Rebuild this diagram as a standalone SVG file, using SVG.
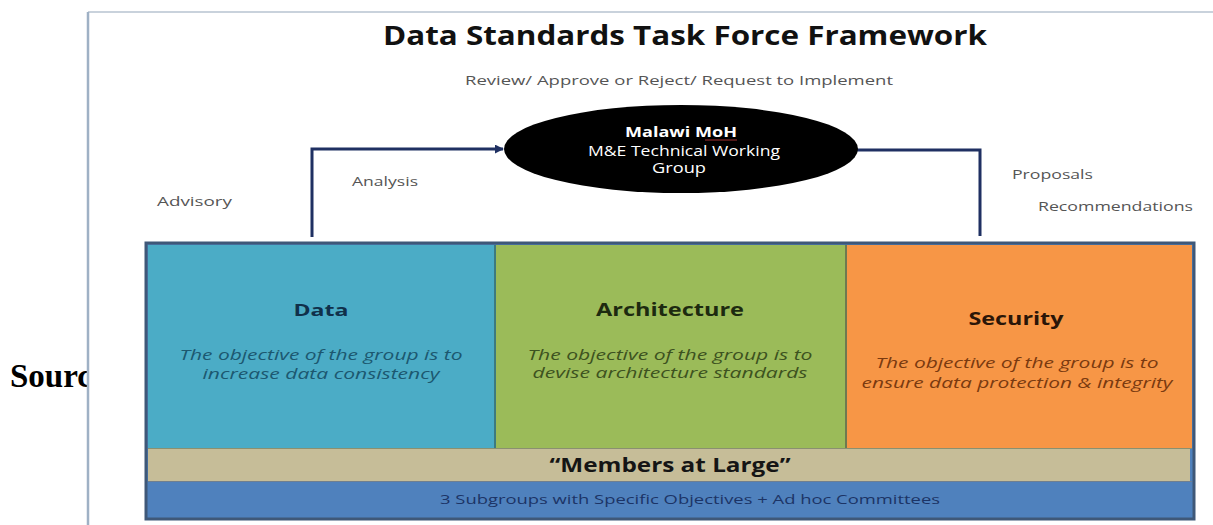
<svg xmlns="http://www.w3.org/2000/svg" width="1213" height="525" viewBox="0 0 1213 525">
<style>
.sans{font-family:"Open Sans","Liberation Sans",sans-serif}
.lbl{font-family:"Open Sans","Liberation Sans",sans-serif;font-size:13px;fill:#555}
.head{font-family:"Open Sans","Liberation Sans",sans-serif;font-weight:bold;text-anchor:middle}
.obj{font-family:"Open Sans","Liberation Sans",sans-serif;font-style:italic;font-size:14px;text-anchor:middle}
.conn{fill:none;stroke:#1f3062;stroke-width:3}
</style>
<defs>
<marker id="arr" viewBox="0 0 10 10" refX="9" refY="5" markerWidth="3" markerHeight="3" orient="auto" markerUnits="strokeWidth">
<path d="M0,0 L10,5 L0,10 z" fill="#1f3062"/>
</marker>
</defs>
<rect width="1213" height="525" fill="#fff"/>
<text x="10" y="387" font-family="Liberation Serif,serif" font-weight="bold" font-size="33" fill="#000">Sourc</text>
<rect x="88" y="12" width="1125" height="513" fill="#fff"/>
<line x1="88" y1="12" x2="1213" y2="12" stroke="#c9d2dc" stroke-width="2"/>
<line x1="88" y1="12" x2="88" y2="525" stroke="#9fb1c5" stroke-width="2.5"/>

<g id="title">
<text x="685" y="45" class="head" font-size="26" fill="#111" textLength="604" lengthAdjust="spacingAndGlyphs">Data Standards Task Force Framework</text>
<text x="679" y="85" class="lbl" text-anchor="middle" textLength="428" lengthAdjust="spacingAndGlyphs">Review/ Approve or Reject/ Request to Implement</text>
</g>

<g id="connectors">
<polyline class="conn" points="312,237 312,149 503,149" marker-end="url(#arr)"/>
<polyline class="conn" points="856,150 980,150 980,236"/>
</g>

<g id="labels">
<text x="157" y="206" class="lbl" textLength="75" lengthAdjust="spacingAndGlyphs">Advisory</text>
<text x="352" y="186" class="lbl" textLength="66" lengthAdjust="spacingAndGlyphs">Analysis</text>
<text x="1012" y="179" class="lbl" textLength="81" lengthAdjust="spacingAndGlyphs">Proposals</text>
<text x="1038" y="211" class="lbl" textLength="155" lengthAdjust="spacingAndGlyphs">Recommendations</text>
</g>

<g id="moh">
<ellipse cx="681" cy="149" rx="177" ry="44" fill="#000"/>
<text x="681" y="137" class="head" font-size="14" fill="#fff" textLength="112" lengthAdjust="spacingAndGlyphs">Malawi MoH</text>
<line x1="705" y1="140" x2="737" y2="140" stroke="#a03030" stroke-width="1"/>
<text x="684" y="156" class="sans" font-size="14" fill="#fff" text-anchor="middle" textLength="192" lengthAdjust="spacingAndGlyphs">M&amp;E Technical Working</text>
<text x="679" y="173" class="sans" font-size="14" fill="#fff" text-anchor="middle" textLength="54" lengthAdjust="spacingAndGlyphs">Group</text>
</g>

<g id="frame">
<rect x="146" y="243" width="1048" height="276" fill="#4f81bd" stroke="#3f5878" stroke-width="3"/>
</g>

<g id="data">
<rect x="148" y="245" width="346" height="203" fill="#4bacc6"/>
<text x="321" y="316" class="head" font-size="16" fill="#10304a" textLength="55" lengthAdjust="spacingAndGlyphs">Data</text>
<text x="321" y="360" class="obj" fill="#1c5870" textLength="283" lengthAdjust="spacingAndGlyphs">The objective of the group is to</text>
<text x="321" y="379" class="obj" fill="#1c5870" textLength="237" lengthAdjust="spacingAndGlyphs">increase data consistency</text>
</g>

<g id="architecture">
<rect x="494" y="245" width="352" height="203" fill="#9bbb59"/>
<line x1="495" y1="245" x2="495" y2="448" stroke="#3d7a80" stroke-width="2"/>
<text x="670" y="316" class="head" font-size="17" fill="#1d2a10" textLength="148" lengthAdjust="spacingAndGlyphs">Architecture</text>
<text x="670" y="360" class="obj" fill="#3d5220" textLength="285" lengthAdjust="spacingAndGlyphs">The objective of the group is to</text>
<text x="670" y="378" class="obj" fill="#3d5220" textLength="275" lengthAdjust="spacingAndGlyphs">devise architecture standards</text>
</g>

<g id="security">
<rect x="846" y="245" width="346" height="203" fill="#f79646"/>
<line x1="846" y1="245" x2="846" y2="448" stroke="#6e7a50" stroke-width="2"/>
<text x="1016" y="325" class="head" font-size="17" fill="#2a1508" textLength="95" lengthAdjust="spacingAndGlyphs">Security</text>
<text x="1017" y="368" class="obj" fill="#7a3a10" textLength="283" lengthAdjust="spacingAndGlyphs">The objective of the group is to</text>
<text x="1017" y="388" class="obj" fill="#7a3a10" textLength="311" lengthAdjust="spacingAndGlyphs">ensure data protection &amp; integrity</text>
</g>

<g id="members">
<rect x="148" y="448" width="1042" height="33" fill="#c6bd98"/>
<line x1="148" y1="448.5" x2="1192" y2="448.5" stroke="#8a9070" stroke-width="1"/>
<text x="670" y="472" class="head" font-size="20" fill="#151515" textLength="241" lengthAdjust="spacingAndGlyphs">“Members at Large”</text>
</g>

<g id="subgroups">
<line x1="148" y1="481.5" x2="1192" y2="481.5" stroke="#6f7f90" stroke-width="1"/>
<text x="690" y="504" class="sans" font-size="12" fill="#1c3466" text-anchor="middle" textLength="500" lengthAdjust="spacingAndGlyphs">3 Subgroups with Specific Objectives + Ad hoc Committees</text>
</g>
</svg>
